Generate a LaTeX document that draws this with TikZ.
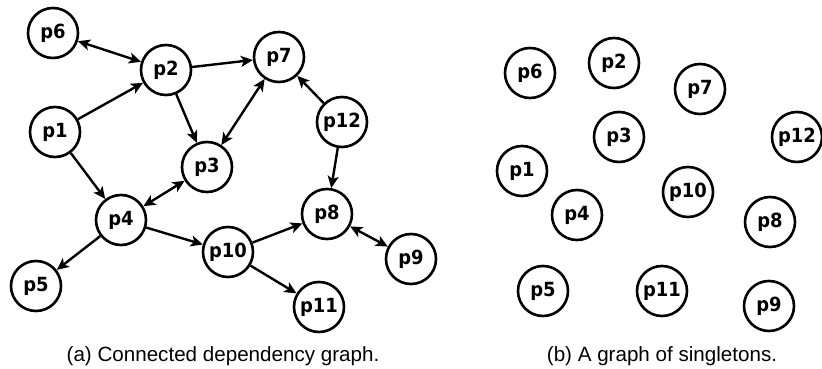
\documentclass[tikz,border=0pt]{standalone}
\usepackage{fontspec}
\setmainfont{Liberation Sans}
\newfontfamily\nodefont{DejaVu Sans}[FakeStretch=0.92]
\usetikzlibrary{arrows.meta}
\begin{document}
\begin{tikzpicture}[x=1pt,y=-1pt,
  pnode/.style={circle,draw,line width=2.6pt,minimum size=50pt,inner sep=0pt,
    font=\nodefont\bfseries\fontsize{19.5}{19.5}\selectfont},
  edge/.style={line width=2.4pt,-{Stealth[length=12pt,width=11pt,inset=3pt]}},
  biedge/.style={line width=2.4pt,{Stealth[length=12pt,width=11pt,inset=3pt]}-{Stealth[length=12pt,width=11pt,inset=3pt]}},
  caption/.style={font=\fontsize{20.6}{20.6}\selectfont,anchor=base}]
\useasboundingbox (0,0) rectangle (822,369);
% (a) connected dependency graph
\node[pnode] (a6)  at (53,33)   {p6};
\node[pnode] (a2)  at (166,70)  {p2};
\node[pnode] (a7)  at (279,57)  {p7};
\node[pnode] (a1)  at (55,132)  {p1};
\node[pnode] (a12) at (342,122) {p12};
\node[pnode] (a3)  at (207,167) {p3};
\node[pnode] (a4)  at (121,220) {p4};
\node[pnode] (a10) at (228,252) {p10};
\node[pnode] (a8)  at (327,214) {p8};
\node[pnode] (a9)  at (411,259) {p9};
\node[pnode] (a5)  at (36,286)  {p5};
\node[pnode] (a11) at (319,307) {p11};
\draw[biedge] (a6) -- (a2);
\draw[edge] (a2) -- (a7);
\draw[edge] (a1) -- (a2);
\draw[edge] (a2) -- (a3);
\draw[biedge] (a3) -- (a7);
\draw[edge] (a12) -- (a7);
\draw[edge] (a12) -- (a8);
\draw[edge] (a1) -- (a4);
\draw[biedge] (a4) -- (a3);
\draw[edge] (a4) -- (a5);
\draw[edge] (a4) -- (a10);
\draw[edge] (a10) -- (a8);
\draw[edge] (a10) -- (a11);
\draw[biedge] (a8) -- (a9);
\node[caption] (capa) at (223,361) {(a) Connected dependency graph.};
% (b) singletons
\node[pnode] (b6)  at (530,73)  {p6};
\node[pnode] (b2)  at (614,63)  {p2};
\node[pnode] (b7)  at (700,89)  {p7};
\node[pnode] (b12) at (797,137) {p12};
\node[pnode] (b3)  at (619,137) {p3};
\node[pnode] (b1)  at (522,171) {p1};
\node[pnode] (b10) at (688,192) {p10};
\node[pnode] (b4)  at (577,215) {p4};
\node[pnode] (b8)  at (770,222) {p8};
\node[pnode] (b5)  at (543,291) {p5};
\node[pnode] (b11) at (662,291) {p11};
\node[pnode] (b9)  at (769,306) {p9};
\node[caption] (capb) at (662,361) {(b) A graph of singletons.};
\end{tikzpicture}
\end{document}
